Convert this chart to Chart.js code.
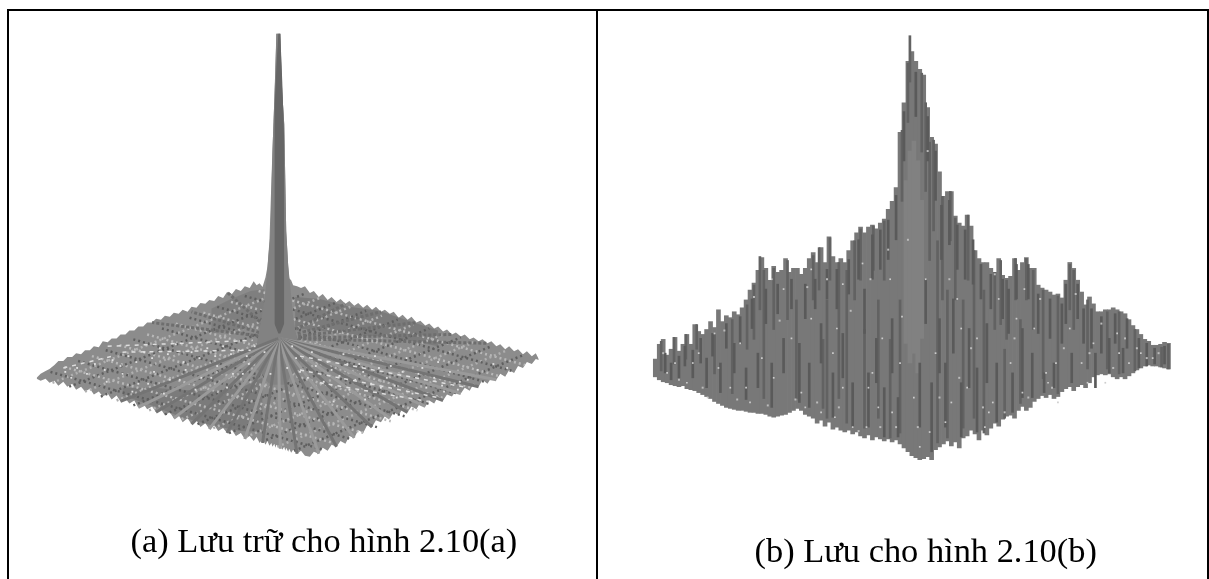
<!DOCTYPE html>
<html>
<head>
<meta charset="utf-8">
<style>
body { margin: 0; background: #fff; width: 1209px; height: 579px; overflow: hidden; position: relative; }
.rule { position: absolute; background: #000; }
.plot { position: absolute; top: 11px; filter: blur(0.7px); }
.caption { position: absolute; font: 34.4px "Liberation Serif", serif; color: #000; white-space: nowrap; line-height: 36px; }
</style>
</head>
<body>
<canvas id="chartA" class="plot" style="left:9px" width="587" height="568"></canvas>
<canvas id="chartB" class="plot" style="left:598px" width="609" height="568"></canvas>
<div class="rule" style="left:7px;top:9px;width:1202px;height:2px"></div>
<div class="rule" style="left:7px;top:9px;width:2px;height:570px"></div>
<div class="rule" style="left:596px;top:9px;width:2px;height:570px"></div>
<div class="rule" style="left:1207px;top:9px;width:2px;height:570px"></div>
<div class="caption" style="left:130.5px;top:522px">(a) Lưu trữ cho hình 2.10(a)</div>
<div class="caption" style="left:754.5px;top:532px">(b) Lưu cho hình 2.10(b)</div>

<script src="https://cdn.jsdelivr.net/npm/chart.js"></script>
<script>
// surface (a): ground position, top and bottom of the silhouette
var groundA = [33,37,42,46,51,55,60,64,69,73,78,82,87,91,96,100,105,109,114,118,123,127,132,136,141,145,150,154,159,163,168,172,177,181,186,190,195,199,204,208,213,217,222,226,231,235,240,244,249,253,
  256,259,262,265,267,269,271,272,274,275,276,280,281,282,284,285,286,288,289,291,293,
  297,301,305,310,314,319,323,328,332,337,341,346,350,355,359,364,368,373,377,382,386,391,395,400,404,409,413,418,422,427,431,436,440,445,449,454,458,463,467,472,476,481,485,490,494,499,503,508,512,517,521,526,530,535,539,542];
var topA = [200,204,207,209,213,217,217,221,221,225,224,228,228,232,231,237,236,240,240,244,244,248,248,252,252,256,256,260,259,263,262,266,265,269,267,272,271,276,275,279,278,283,281,287,285,290,288,293,291,298,
  294,296,292,302,313,339,401,429,484,511,549,549,511,489,457,404,349,314,301,299,294,
  293,291,293,286,288,282,285,279,282,277,280,275,278,273,276,271,274,269,272,267,269,265,267,261,264,259,262,256,258,253,255,250,252,247,249,244,246,242,244,239,241,237,239,235,237,232,234,229,232,227,229,224,227,222,225,219];
var bottomA = [199,197,199,195,197,192,196,191,194,188,191,186,189,183,186,181,184,178,182,176,179,174,177,170,174,168,171,165,168,162,165,159,162,155,159,153,157,150,154,148,152,146,149,144,147,141,144,138,141,136,
  140,134,138,132,136,131,134,130,133,129,132,128,131,127,130,126,129,125,128,124,127,
  123,126,121,120,125,123,129,126,132,130,136,133,141,139,147,144,152,150,157,155,161,159,165,162,169,165,171,168,175,171,177,174,181,177,183,181,187,184,190,187,194,191,198,194,200,198,204,201,208,205,212,210,216,214,219,218];

// the stem of (a), lighter flare and darker core
var rootX = [255,258,261,264,266,268,270,272,274,276,280,282,284,286,288,290,293,296,300];
var rootTop = [229,244,261,279,299,324,347,429,484,549,549,489,457,349,314,294,261,244,229];
var rootBottom = [209,207,204,201,197,195,193,193,193,193,193,193,193,195,197,201,204,207,209];
var coreX = [274,276,278,280,282,284];
var coreTop = [470,515,549,549,500,440];
var coreBottom = [255,250,245,245,250,255];

// darker patches of the surface (a)
var frontShadeX = [120,150,180,210,240,262];
var frontShadeTop = [190,190,188,186,190,200];
var frontShadeBottom = [182,172,160,152,146,145];
var backRightX = [295,320,350,380,410,440];
var backRightTop = [282,280,272,268,258,248];
var backRightBottom = [250,248,244,242,238,232];
var backLeftX = [210,230,250,264];
var backLeftTop = [270,280,288,290];
var backLeftBottom = [245,248,250,250];

// ribs running out from the stem to the teeth of the front edges
var ribHub = [278,240];
var ribEndX = [118,136,154,172,190,208,226,244,262,280,297,319,337,355,373,391,409,427,445,463,481,499];
var ribEndY = [176,170,165,159,153,148,144,138,134,128,123,123,130,139,150,159,165,171,177,184,191,198];
var backRibEndX = [346,382,418,454,490,150,190,226];
var backRibEndY = [275,267,256,244,235,256,267,287];

// rows of the surface lattice, both directions
var rowStartX = [47,61,75,89,103,117,131,145,160,174,188,202,216,230,244,258];
var rowStartY = [206,211,217,222,228,233,239,244,250,255,261,266,272,277,283,288];
var rowEndX = [324,337,351,365,378,392,406,419,433,447,460,474,487,501,515,528];
var rowEndY = [127,133,138,144,150,156,161,167,173,179,184,190,196,202,207,213];
var colStartX = [49,66,82,98,114,131,147,163,180,196,212,228,245,261,277,294];
var colStartY = [195,191,186,181,177,172,167,163,158,153,149,144,140,135,130,126];
var colEndX = [288,304,320,336,351,367,383,399,415,431,447,463,478,494,510,526];
var colEndY = [290,285,281,276,272,268,263,259,254,250,245,241,237,232,228,223];

// pale glints across the middle of (a)
var glintStartX = [105,120,60,300,300,320];
var glintStartY = [232,226,210,222,208,195];
var glintEndX = [252,250,110,470,440,430];
var glintEndY = [238,228,222,190,180,176];

var speckAX = [62,68,74,84,92,102,110,118,126,134,142,150,158,166,174,182,190,198,206,214,222,230,238,246,254,104,120,136,152,168,184,200,216,232,248,130,146,162,178,194,210,226,242,264,270,287,292,300,308,316,324,332,340,348,356,364,372,380,388,396,404,412,420,428,436,444,452,460,470,318,334,350,366,382,398,414,430,446,462,296,312,328,344,360,376,392,408,424,440,480,496,510];
var speckAY = [206,200,210,204,214,208,218,212,222,216,226,220,230,224,234,216,226,220,230,222,232,224,228,222,232,196,204,194,206,198,208,200,212,204,214,186,194,184,198,188,200,190,204,226,204,210,232,206,200,212,196,208,202,214,198,206,194,210,200,192,206,196,204,190,200,192,206,188,198,184,176,188,178,190,180,184,176,186,196,220,226,216,224,214,222,212,220,210,216,208,214,210];

// surface (b): one column per ground position
var groundB = [652,656,660,664,668,672,676,680,684,688,692,696,700,704,708,712,716,720,724,728,732,736,740,744,748,752,756,760,764,768,772,776,780,784,788,792,796,800,804,808,812,816,820,824,828,832,836,840,844,848,852,856,860,864,868,872,876,880,884,888,892,896,900,904,908,912,916,920,924,928,932,936,940,944,948,952,956,960,964,968,972,976,980,984,988,992,996,1000,1004,1008,1012,1016,1020,1024,1028,1032,1036,1040,1044,1048,1052,1056,1060,1064,1068,1072,1076,1080,1084,1088,1092,1096,1100,1104,1108,1112,1116,1120,1124,1128,1132,1136,1140,1144,1148,1152,1156,1160,1164,1168,1172];
var topB = [219,234,239,223,229,241,227,234,244,234,254,247,244,249,257,251,269,257,263,261,267,264,271,279,289,296,309,322,311,299,313,307,309,321,307,311,311,305,311,321,327,317,332,317,343,323,317,321,317,329,339,347,353,347,353,355,351,357,361,371,379,393,449,479,521,531,521,513,507,474,444,437,409,384,389,389,364,357,354,365,354,329,321,317,317,311,307,321,304,301,303,321,309,317,322,311,311,294,291,289,287,284,285,281,299,317,311,299,287,274,282,275,267,267,269,269,271,269,267,265,259,253,249,244,239,237,233,233,234,236,235];
var bottomB = [201,198,196,195,193,192,191,192,189,188,187,185,183,181,179,176,174,172,170,169,168,167,167,166,165,165,164,164,163,161,160,161,162,163,165,167,169,167,163,161,159,154,157,151,155,148,150,147,145,147,143,145,141,139,142,137,140,138,136,138,135,137,133,129,125,121,119,117,118,120,117,127,130,133,136,131,135,129,139,141,147,143,137,147,142,149,154,151,158,161,162,159,167,171,167,170,176,179,182,180,183,179,181,186,189,191,187,191,193,190,195,201,203,204,203,204,201,199,201,199,202,205,208,210,212,213,212,212,211,210,209];

// long dark vertical streaks of (b)
var streakX = [658,671,683,694,712,730,745,752,758,762,772,786,795,812,818,829,826,822,838,846,854,864,860,873,878,884,890,902,900,908,910,922,926,930,934,938,943,951,948,956,969,964,975,985,996,1002,1008,1006,1017,1028,1022,1035,1045,1060,1072,1076,1090,1110,1122,1138,1165,1172];
var streakTop = [237,241,244,254,244,259,274,294,323,309,311,319,279,324,332,342,279,239,317,309,339,249,351,354,279,359,239,451,279,519,547,509,479,439,441,339,384,389,289,362,365,279,329,289,307,319,299,229,321,321,259,309,289,283,315,309,279,267,267,249,231,234];
var streakBottom = [207,214,219,229,204,184,229,239,269,179,249,259,179,279,289,299,159,169,179,154,279,149,299,309,159,299,139,379,144,459,500,429,389,319,349,134,279,339,139,279,299,149,159,144,249,254,239,159,279,279,174,249,199,184,269,249,209,209,204,207,211,209];

// short dark flecks of (b)
var fleckX = [662,668,676,682,690,698,704,710,718,724,732,738,744,750,756,764,770,776,782,790,798,804,808,814,820,826,832,836,842,848,852,858,864,868,872,876,880,884,888,892,896,898,904,916,920,926,928,932,936,940,942,946,950,954,958,962,966,970,974,978,982,988,992,998,1004,1010,1014,1018,1024,1030,1034,1040,1046,1052,1056,1064,1068,1074,1080,1086,1094,1098,1104,1112,1118,1126,1130,1142,1150,1158,1168];
var fleckTop = [225,215,222,232,228,240,220,245,215,255,235,262,210,280,225,290,215,295,240,300,235,295,215,300,255,310,205,310,245,320,195,340,290,205,345,240,350,190,360,260,385,180,470,510,215,300,465,195,430,260,375,215,380,280,355,195,350,250,340,210,315,255,305,215,300,290,205,315,250,315,225,285,205,280,215,275,295,225,295,270,270,225,262,240,265,230,260,240,235,230,232];
var fleckBottom = [205,198,200,212,200,215,190,222,185,230,205,235,178,250,190,255,170,265,205,270,175,260,170,270,215,280,160,270,200,285,150,300,245,150,300,195,310,140,320,205,340,140,420,465,150,255,420,125,380,205,320,150,335,225,310,140,300,190,295,145,280,195,270,155,260,245,165,280,180,280,180,245,185,240,190,235,255,195,260,235,230,190,225,205,235,205,230,210,212,214,214];

// smoother, lighter band under the peak of (b)
var bandX = [906,910,914,918,922];
var bandTop = [400,430,440,420,380];
var bandBottom = [235,215,225,205,240];

var speckBX = [664,672,684,696,705,716,728,738,748,760,772,782,790,800,810,820,832,842,852,862,872,882,892,902,914,926,936,946,958,968,978,990,1000,1012,1024,1036,1048,1060,1072,1084,1096,1108,1120,1132,1144,1156,690,712,744,770,804,836,868,900,930,962,994,1026,1058,1090,1122,810,842,878,920,952,986,1018,1050,866,834,890];
var speckBY = [205,215,195,225,180,210,190,235,175,220,200,290,240,185,260,165,225,295,150,316,205,240,165,262,180,300,225,155,280,190,240,165,280,215,185,250,205,175,250,215,235,195,245,215,225,220,215,245,190,300,170,250,190,215,145,250,175,290,215,195,225,310,190,170,130,175,150,260,195,150,160,300];
var moreSpeckBX = [660,676,700,722,735,752,766,778,794,806,816,826,838,850,858,870,880,888,896,908,918,928,940,950,960,972,984,996,1006,1016,1030,1042,1054,1066,1078,1092,1104,1116,1128,1140,1150,1162];
var moreSpeckBY = [225,198,190,248,178,282,172,258,178,292,175,300,170,268,146,300,150,330,150,340,150,430,180,300,200,230,170,305,165,240,180,280,190,230,285,225,255,210,240,230,220,225];

function pairs(xs, ys) {
  return xs.map(function (x, i) { return { x: x, y: ys[i] }; });
}

// a filled region between two outlines
function region(xs, upper, lower, color) {
  return [
    { type: 'line', data: pairs(xs, upper), fill: '+1', backgroundColor: color, borderColor: 'transparent', borderWidth: 0, pointRadius: 0 },
    { type: 'line', data: pairs(xs, lower), fill: false, borderColor: 'transparent', borderWidth: 0, pointRadius: 0 }
  ];
}

function stroke(points, color, width, dash) {
  return { type: 'line', data: points, fill: false, borderColor: color, borderWidth: width, borderDash: dash || [], pointRadius: 0 };
}

function specks(xs, ys, color, radius) {
  return { type: 'scatter', data: pairs(xs, ys), backgroundColor: color, borderWidth: 0, pointStyle: 'rect', pointRadius: radius };
}

function columns(xs, upper, lower, color, thickness) {
  return {
    type: 'bar',
    data: xs.map(function (x, i) { return { x: x, y: [lower[i], upper[i]] }; }),
    backgroundColor: color,
    barThickness: thickness,
    grouped: false
  };
}

function options(xMin, xMax) {
  return {
    responsive: false,
    animation: false,
    events: [],
    layout: { padding: 0 },
    plugins: { legend: { display: false }, tooltip: { enabled: false }, title: { display: false } },
    scales: {
      x: { type: 'linear', display: false, offset: false, min: xMin, max: xMax },
      y: { type: 'linear', display: false, min: 0, max: 568 }
    }
  };
}

// the first dataset is painted last, so the core and the specks come first
var setsA = [];
setsA = setsA.concat(region(coreX, coreTop, coreBottom, '#666666'));
setsA.push(specks(speckAX, speckAY, '#e0e0e0', 1.3));
glintStartX.forEach(function (x, i) {
  setsA.push(stroke([{ x: x, y: glintStartY[i] }, { x: glintEndX[i], y: glintEndY[i] }], '#dedede', 1.5, [4, 5]));
});
ribEndX.forEach(function (x, i) {
  setsA.push(stroke([{ x: ribHub[0], y: ribHub[1] }, { x: x, y: ribEndY[i] }], i % 2 ? '#9a9a9a' : '#747474', 3));
});
setsA = setsA.concat(region(rootX, rootTop, rootBottom, '#828282'));
backRibEndX.forEach(function (x, i) {
  setsA.push(stroke([{ x: ribHub[0], y: ribHub[1] }, { x: x, y: backRibEndY[i] }], '#6e6e6e', 3, [3, 2]));
});
rowStartX.forEach(function (x, i) {
  setsA.push(stroke([{ x: x, y: rowStartY[i] }, { x: rowEndX[i], y: rowEndY[i] }], i % 2 ? '#b8b8b8' : '#5f5f5f', 2.5, [2, 3]));
  setsA.push(stroke([{ x: colStartX[i], y: colStartY[i] }, { x: colEndX[i], y: colEndY[i] }], i % 2 ? '#5f5f5f' : '#b0b0b0', 2.5, [2, 3]));
});
setsA = setsA.concat(region(frontShadeX, frontShadeTop, frontShadeBottom, 'rgba(80,80,80,0.28)'));
setsA = setsA.concat(region(backRightX, backRightTop, backRightBottom, 'rgba(70,70,70,0.24)'));
setsA = setsA.concat(region(backLeftX, backLeftTop, backLeftBottom, 'rgba(70,70,70,0.18)'));
setsA = setsA.concat(region(groundA, topA, bottomA, '#8c8c8c'));

new Chart(document.getElementById('chartA'), {
  type: 'line',
  data: { datasets: setsA },
  options: options(9, 596)
});

new Chart(document.getElementById('chartB'), {
  type: 'bar',
  data: {
    datasets: [
      specks(speckBX, speckBY, '#cdcdcd', 1.2),
      specks(moreSpeckBX, moreSpeckBY, '#bcbcbc', 1.4),
      columns(fleckX, fleckTop, fleckBottom, '#5a5a5a', 2),
      columns(streakX, streakTop, streakBottom, '#626262', 2),
      columns(bandX, bandTop, bandBottom, '#818181', 4),
      columns(groundB, topB, bottomB, '#787878', 4)
    ]
  },
  options: options(598, 1207)
});
</script>
</body>
</html>
